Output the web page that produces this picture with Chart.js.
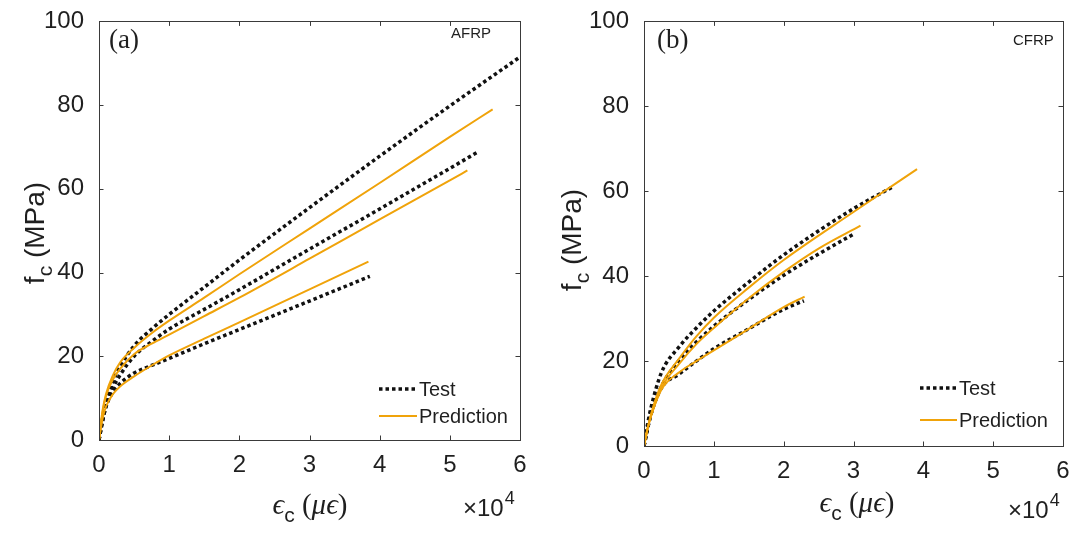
<!DOCTYPE html>
<html>
<head>
<meta charset="utf-8">
<title>Stress-strain curves: AFRP and CFRP confined concrete</title>
<script src="https://cdn.jsdelivr.net/npm/chart.js@4.4.1/dist/chart.umd.min.js"></script>
<style>
  html, body { margin: 0; padding: 0; background: #fff; }
  #wrap { position: relative; width: 1078px; height: 535px; }
  #wrap canvas { position: absolute; top: 0; }
</style>
</head>
<body>
<div id="wrap">
  <canvas id="afrpChart" width="540" height="535" style="left:0"></canvas>
  <canvas id="cfrpChart" width="538" height="535" style="left:540px"></canvas>
</div>
<script>
// ---------------------------------------------------------------------------
// Data: axial strain (x 10^4 micro-strain) vs. axial stress f_c (MPa).
// Three specimens per jacket type, each with a test and a model curve.
// ---------------------------------------------------------------------------
const xTicks = [0, 1, 2, 3, 4, 5, 6];
const yTicks = [0, 20, 40, 60, 80, 100];

// AFRP-wrapped specimens
const afrpTest1 = [[0,0],[0.05,5],[0.1,9],[0.2,14],[0.3,17.5],[0.5,22.5],[0.75,26.5],[1,30],[1.5,36.5],[2,43],[3,55.5],[4,67.8],[5,79.8],[6,91.5]];
const afrpPred1 = [[0,0],[0.05,7],[0.1,11],[0.2,15.5],[0.3,18.5],[0.5,22],[0.75,25.5],[1,28.5],[1.5,34],[2,39.6],[3,50.5],[4,61.4],[5,72.4],[5.61,79]];
const afrpTest2 = [[0,0],[0.05,4.5],[0.1,8],[0.2,12.5],[0.3,15.5],[0.5,20],[0.75,23.5],[1,26.5],[1.5,31.2],[2,35.9],[3,45.6],[4,55.2],[5,64.9],[5.4,68.8]];
const afrpPred2 = [[0,0],[0.05,6.5],[0.1,10.5],[0.2,14.5],[0.3,17],[0.5,20.5],[0.75,23],[1,25.2],[1.5,29.6],[2,34],[3,43.3],[4,52.7],[5,62],[5.25,64.4]];
const afrpTest3 = [[0,0],[0.05,4.5],[0.1,8],[0.2,11.5],[0.3,13.5],[0.5,16],[0.75,17.8],[1,19.5],[1.5,23],[2,26.4],[3,33.2],[3.86,39.1]];
const afrpPred3 = [[0,0],[0.05,5],[0.1,8],[0.2,11],[0.3,12.8],[0.5,15.2],[0.75,17.8],[1,20.2],[1.5,24.2],[2,28.1],[3,36],[3.84,42.6]];

// CFRP-wrapped specimens
const cfrpTest1 = [[0,0],[0.05,5],[0.1,9],[0.25,17.3],[0.5,23.3],[0.75,27.8],[1,31.8],[1.5,38.6],[2,45],[3,55.9],[3.57,61.1]];
const cfrpPred1 = [[0,0],[0.05,4],[0.1,7.5],[0.25,14.5],[0.5,20.5],[0.75,25.8],[1,30.2],[1.5,37.3],[2,43.8],[3,55.1],[3.91,65.2]];
const cfrpTest2 = [[0,0],[0.05,4],[0.1,7.5],[0.25,14],[0.5,20.1],[0.75,24.5],[1,28.2],[1.5,34.5],[2,40.2],[2.5,45.2],[3,49.9]];
const cfrpPred2 = [[0,0],[0.05,4],[0.1,7],[0.25,13.7],[0.5,19.3],[0.75,24],[1,27.8],[1.5,34.8],[2,41],[2.5,46.5],[3.1,51.9]];
const cfrpTest3 = [[0,0],[0.05,4],[0.1,7.5],[0.25,13.7],[0.5,16.9],[0.75,20],[1,22.9],[1.5,27.6],[2,32.2],[2.29,34.2]];
const cfrpPred3 = [[0,0],[0.05,4],[0.1,7],[0.25,13.3],[0.5,17.3],[0.75,20],[1,22.5],[1.5,27.6],[2,32.7],[2.3,35.2]];

// ---------------------------------------------------------------------------
// Styles
// ---------------------------------------------------------------------------
const SANS = '"Liberation Sans", Arial, Helvetica, sans-serif';
const SERIF = '"Liberation Serif", "Times New Roman", serif';
const TEXT_COLOR = '#1f1f1f';
const AXIS_COLOR = '#3a3a3a';
const TEST_COLOR = '#111111';
const PRED_COLOR = '#f0a30a';
const TEST_DASH = [3.5, 3];

function testSeries(points) {
  return {
    data: points.map(([x, y]) => ({ x, y })),
    showLine: true,
    pointRadius: 0,
    borderColor: TEST_COLOR,
    borderWidth: 3.5,
    borderDash: TEST_DASH,
    borderCapStyle: 'butt',
    cubicInterpolationMode: 'monotone',
    order: 2
  };
}

function predSeries(points) {
  return {
    data: points.map(([x, y]) => ({ x, y })),
    showLine: true,
    pointRadius: 0,
    borderColor: PRED_COLOR,
    borderWidth: 2,
    cubicInterpolationMode: 'monotone',
    order: 1
  };
}

// draw a run of text pieces (each with its own font / vertical shift) centred on cx
function drawRuns(ctx, runs, cx, baseline) {
  let total = 0;
  runs.forEach(r => { ctx.font = r.font; total += ctx.measureText(r.text).width; });
  let x = cx - total / 2;
  ctx.textAlign = 'left';
  ctx.textBaseline = 'alphabetic';
  runs.forEach(r => {
    ctx.font = r.font;
    ctx.fillText(r.text, x, baseline + (r.dy || 0));
    x += ctx.measureText(r.text).width;
  });
}

// ---------------------------------------------------------------------------
// Plugin: boxed axes with inward ticks, titles, panel tags and legend
// ---------------------------------------------------------------------------
const matlabAxes = {
  id: 'matlabAxes',
  afterDatasetsDraw(chart, args, opts) {
    const { ctx, chartArea: a, scales } = chart;
    ctx.save();
    ctx.strokeStyle = AXIS_COLOR;
    ctx.lineWidth = 1;
    ctx.strokeRect(Math.round(a.left) + 0.5, Math.round(a.top) + 0.5,
                   Math.round(a.right - a.left), Math.round(a.bottom - a.top));
    const len = 4.5;
    ctx.beginPath();
    xTicks.forEach(v => {
      const px = Math.round(scales.x.getPixelForValue(v)) + 0.5;
      ctx.moveTo(px, a.bottom); ctx.lineTo(px, a.bottom - len);
      ctx.moveTo(px, a.top); ctx.lineTo(px, a.top + len);
    });
    yTicks.forEach(v => {
      const py = Math.round(scales.y.getPixelForValue(v)) + 0.5;
      ctx.moveTo(a.left, py); ctx.lineTo(a.left + len, py);
      ctx.moveTo(a.right, py); ctx.lineTo(a.right - len, py);
    });
    ctx.stroke();
    ctx.restore();
  },
  afterDraw(chart, args, opts) {
    const { ctx } = chart;
    ctx.save();
    ctx.fillStyle = TEXT_COLOR;

    // panel letter and jacket type
    ctx.textBaseline = 'middle';
    ctx.textAlign = 'left';
    ctx.font = '27px ' + SERIF;
    ctx.fillText(opts.panel, opts.panelPos[0], opts.panelPos[1]);
    ctx.font = '15px ' + SANS;
    ctx.fillText(opts.tag, opts.tagPos[0], opts.tagPos[1]);

    // legend
    const lg = opts.legend;
    ctx.lineWidth = 3.5;
    ctx.strokeStyle = TEST_COLOR;
    ctx.setLineDash(TEST_DASH);
    ctx.beginPath();
    ctx.moveTo(lg.x0, lg.testY); ctx.lineTo(lg.x1, lg.testY);
    ctx.stroke();
    ctx.setLineDash([]);
    ctx.lineWidth = 2;
    ctx.strokeStyle = PRED_COLOR;
    ctx.beginPath();
    ctx.moveTo(lg.x0, lg.predY); ctx.lineTo(lg.x1, lg.predY);
    ctx.stroke();
    ctx.font = '20px ' + SANS;
    ctx.fillText('Test', lg.x1 + 2, lg.testY + 1);
    ctx.fillText('Prediction', lg.x1 + 2, lg.predY + 1);

    // y-axis title: f_c (MPa)
    ctx.save();
    ctx.translate(opts.yTitle[0], opts.yTitle[1]);
    ctx.rotate(-Math.PI / 2);
    drawRuns(ctx, [
      { text: 'f', font: '28px ' + SANS },
      { text: 'c', font: '21px ' + SANS, dy: 8 },
      { text: ' (MPa)', font: '28px ' + SANS }
    ], 0, 10);
    ctx.restore();

    // x-axis title: eps_c (mu eps)
    drawRuns(ctx, [
      { text: '\u03f5', font: 'italic 29px ' + SERIF },
      { text: 'c', font: '21px ' + SANS, dy: 8 },
      { text: ' (', font: '29px ' + SERIF },
      { text: '\u03bc\u03f5', font: 'italic 29px ' + SERIF },
      { text: ')', font: '29px ' + SERIF }
    ], opts.xTitle[0], opts.xTitle[1]);

    // axis multiplier: x10^4
    ctx.textAlign = 'left';
    ctx.textBaseline = 'alphabetic';
    ctx.font = '24px ' + SANS;
    const mx = opts.mult[0], my = opts.mult[1];
    ctx.fillText('\u00d710', mx, my);
    const w = ctx.measureText('\u00d710').width;
    ctx.font = '18px ' + SANS;
    ctx.fillText('4', mx + w + 1, my - 12);
    ctx.restore();
  }
};

function buildChart(canvasId, datasets, lay) {
  return new Chart(document.getElementById(canvasId), {
    type: 'scatter',
    data: { datasets },
    options: {
      responsive: false,
      animation: false,
      events: [],
      layout: { padding: { left: 0, top: lay.top, right: lay.right, bottom: 0 } },
      plugins: {
        legend: { display: false },
        tooltip: { enabled: false },
        matlabAxes: lay
      },
      scales: {
        x: {
          type: 'linear',
          min: 0, max: 6,
          afterBuildTicks: sc => { sc.ticks = xTicks.map(v => ({ value: v })); },
          afterFit: sc => { sc.height = lay.xAxisHeight; },
          grid: { display: false },
          border: { display: false },
          ticks: { color: TEXT_COLOR, font: { family: SANS, size: 24 }, padding: 3, maxRotation: 0 }
        },
        y: {
          type: 'linear',
          min: 0, max: 100,
          afterBuildTicks: sc => { sc.ticks = yTicks.map(v => ({ value: v })); },
          afterFit: sc => { sc.width = lay.yAxisWidth; },
          grid: { display: false },
          border: { display: false },
          ticks: { color: TEXT_COLOR, font: { family: SANS, size: 24 }, padding: 7 }
        }
      }
    },
    plugins: [matlabAxes]
  });
}

// --- (a) AFRP ---------------------------------------------------------------
buildChart('afrpChart', [
  testSeries(afrpTest1), testSeries(afrpTest2), testSeries(afrpTest3),
  predSeries(afrpPred1), predSeries(afrpPred2), predSeries(afrpPred3)
], {
  top: 16, right: 20, yAxisWidth: 99, xAxisHeight: 95,
  panel: '(a)', panelPos: [109, 41],
  tag: 'AFRP', tagPos: [451, 34],
  legend: { x0: 379, x1: 417, testY: 389, predY: 416 },
  yTitle: [34, 233],
  xTitle: [310, 514],
  mult: [463, 516]
});

// --- (b) CFRP ---------------------------------------------------------------
buildChart('cfrpChart', [
  testSeries(cfrpTest1), testSeries(cfrpTest2), testSeries(cfrpTest3),
  predSeries(cfrpPred1), predSeries(cfrpPred2), predSeries(cfrpPred3)
], {
  top: 20, right: 15, yAxisWidth: 104, xAxisHeight: 89,
  panel: '(b)', panelPos: [117, 41],
  tag: 'CFRP', tagPos: [473, 41],
  legend: { x0: 380, x1: 417, testY: 388, predY: 420 },
  yTitle: [31, 240],
  xTitle: [317, 512],
  mult: [468, 518]
});
</script>
</body>
</html>
